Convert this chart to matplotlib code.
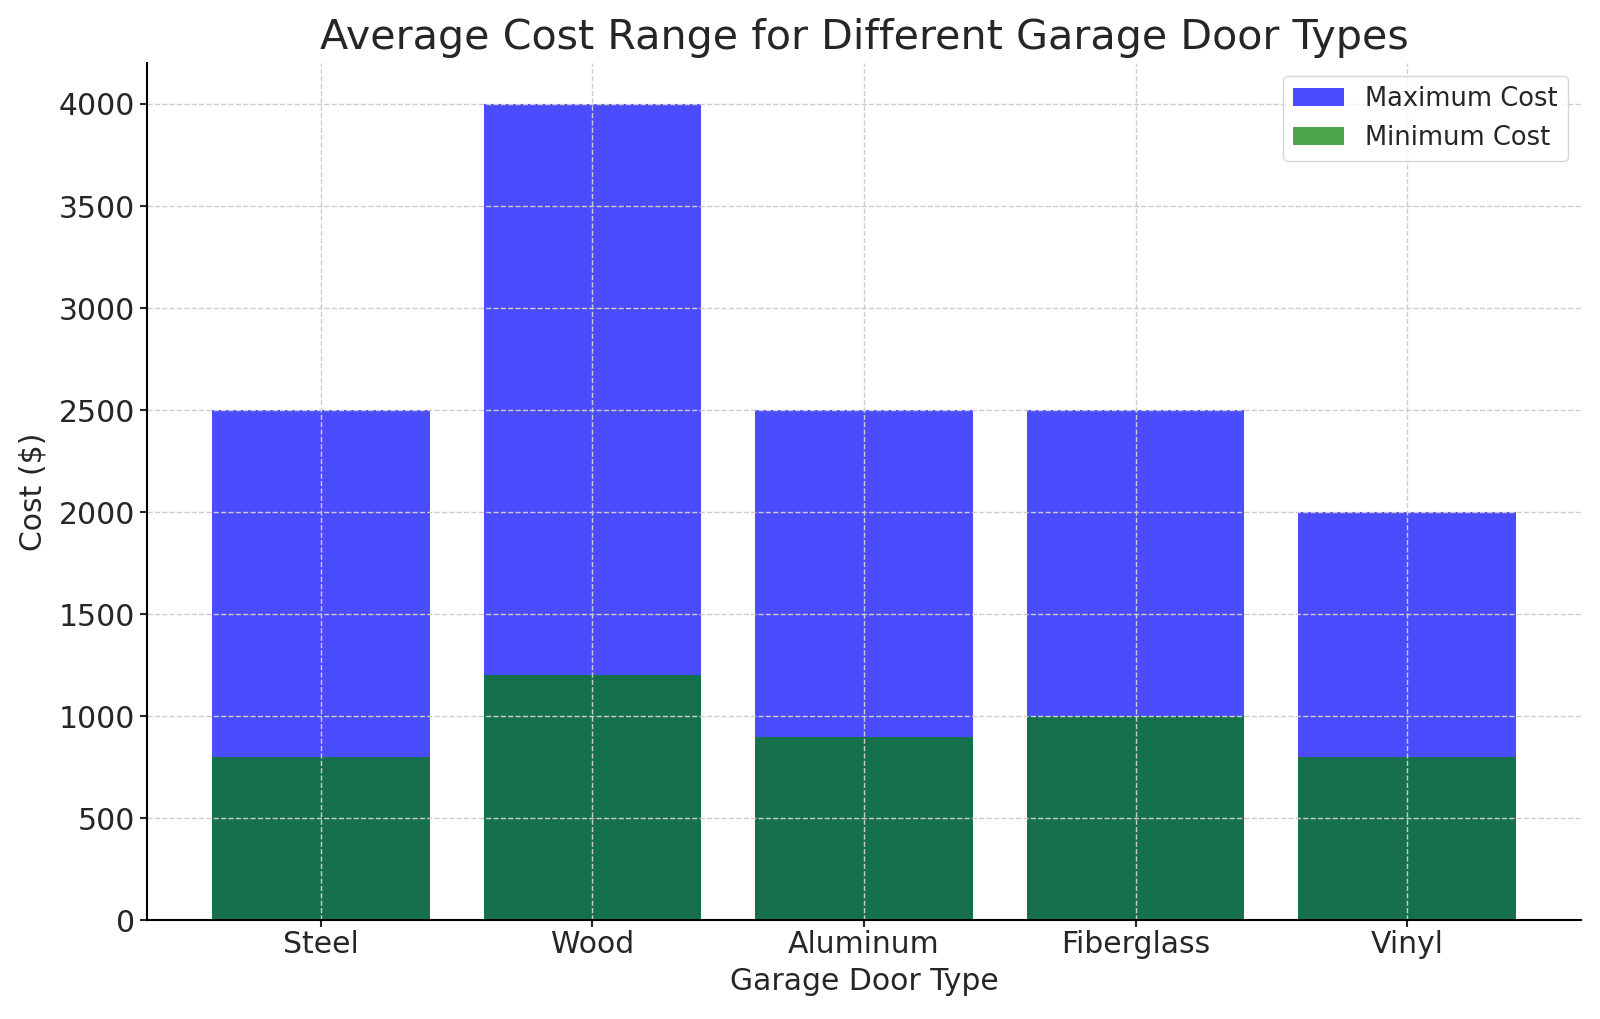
import matplotlib
matplotlib.use("Agg")
import matplotlib.pyplot as plt

door_types = ["Steel", "Wood", "Aluminum", "Fiberglass", "Vinyl"]
max_cost = [2500, 4000, 2500, 2500, 2000]
min_cost = [800, 1200, 900, 1000, 800]

plt.rcParams["text.color"] = "#262626"
plt.rcParams["axes.labelcolor"] = "#262626"
plt.rcParams["xtick.color"] = "#262626"
plt.rcParams["ytick.color"] = "#262626"

fig, ax = plt.subplots(figsize=(16, 10.19), dpi=100)
ax.bar(door_types, max_cost, color="blue", alpha=0.7, label="Maximum Cost")
ax.bar(door_types, min_cost, color="green", alpha=0.7, label="Minimum Cost")

ax.set_title("Average Cost Range for Different Garage Door Types", fontsize=29.7, pad=10)
ax.set_xlabel("Garage Door Type", fontsize=21.5, labelpad=6)
ax.set_ylabel("Cost ($)", fontsize=21.5, labelpad=8)
ax.tick_params(axis="both", labelsize=21.5, length=5, width=1.5)
ax.tick_params(axis="x", pad=2)
ax.set_ylim(0, 4200)
ax.grid(True, linestyle="--", color="#cccccc", linewidth=1)
ax.spines["top"].set_visible(False)
ax.spines["right"].set_visible(False)
ax.spines["left"].set_linewidth(1.5)
ax.spines["bottom"].set_linewidth(1.5)
ax.legend(fontsize=18.5, loc="upper right")

fig.subplots_adjust(left=0.092, right=0.988, top=0.938, bottom=0.097)
fig.savefig("out.png")
